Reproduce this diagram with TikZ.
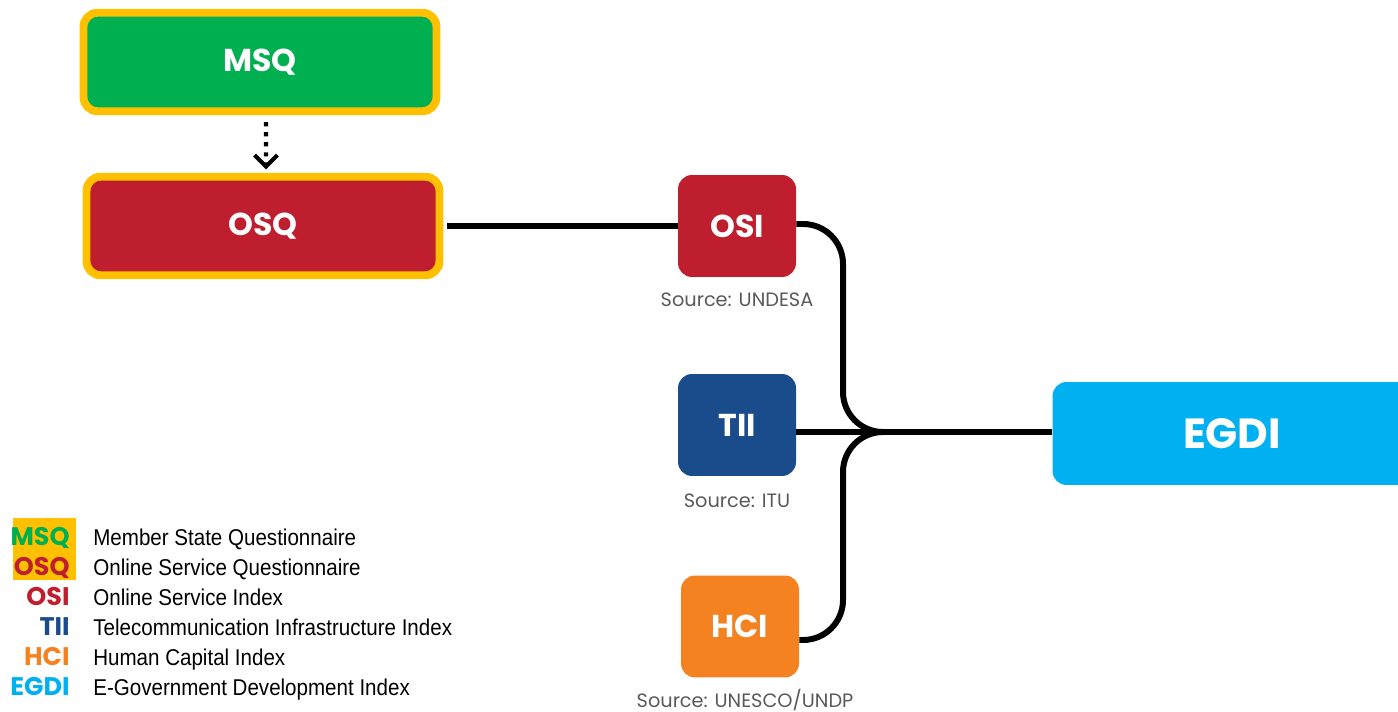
\documentclass[tikz,border=0pt]{standalone}
\usepackage{fontspec}
\setmainfont{Poppins}
\newfontfamily\legendfont[FakeStretch=0.9]{Liberation Sans}
\usetikzlibrary{arrows.meta}
\definecolor{verde}{HTML}{00B050}
\definecolor{oro}{HTML}{FFC000}
\definecolor{rojo}{HTML}{BE1E2D}
\definecolor{azul}{HTML}{1A4C8C}
\definecolor{naranja}{HTML}{F58220}
\definecolor{celeste}{HTML}{00B0F0}
\definecolor{gris}{HTML}{595959}

\begin{document}
\begin{tikzpicture}[x=0.02cm, y=-0.02cm,
  caja/.style={rounded corners=0.28cm, text=white, inner sep=0pt,
    font=\bfseries\fontsize{18}{20}\selectfont},
  cuest/.style={caja, draw=oro, line width=4.5pt,
    minimum width=7.06cm, minimum height=1.97cm},
  indice/.style={caja, minimum width=2.36cm, minimum height=2.04cm},
  fuente/.style={anchor=base, text=gris, inner sep=0pt,
    font=\fontsize{11}{13}\selectfont},
  enlace/.style={line width=3.4pt, line join=round},
  abrev/.style={anchor=base east, inner sep=0pt,
    font=\bfseries\fontsize{14.5}{16}\selectfont},
  desc/.style={anchor=base west, inner sep=0pt,
    font=\legendfont\fontsize{13}{15}\selectfont}]
  \useasboundingbox (0,0) rectangle (1398,712);

  % Cuestionarios
  \node[cuest, fill=verde] (msq) at (260,62) {MSQ};
  \node[cuest, fill=rojo] (osq) at (263,226) {OSQ};
  \draw[line width=2.3pt, dash pattern=on 2.3pt off 3.4pt,
    -{Straight Barb[length=6.5pt,width=13pt]}]
    ([xshift=0.12cm,yshift=-4pt]msq.south) -- ([xshift=0.06cm,yshift=2pt]osq.north);

  % Indices
  \node[indice, fill=rojo] (osi) at (737,226) {OSI};
  \node[indice, fill=azul] (tii) at (737,425) {TII};
  \node[indice, fill=naranja] (hci) at (740,626.5) {HCI};
  \node[caja, fill=celeste, minimum width=7.18cm, minimum height=2.06cm,
    font=\bfseries\fontsize{24}{28}\selectfont] (egdi) at (1232,433.5) {EGDI};

  % Fuentes
  \node[fuente] (src-osi) at (737,307) {Source: UNDESA};
  \node[fuente] (src-tii) at (737,507) {Source: ITU};
  \node[fuente] (src-hci) at (745,707) {Source: UNESCO/UNDP};

  % Conexiones
  \coordinate (union) at (885,432);
  \coordinate (codoA) at (843,224);
  \coordinate (codoB) at (843,640);
  \draw[enlace] ([xshift=2.25pt]osq.east) -- (osi.west);
  \draw[enlace] (tii.east |- union) -- (egdi.west |- union);
  \draw[enlace, rounded corners=0.8cm]
    (osi.east |- codoA) -- (codoA) -- (codoA |- union) -- (union);
  \draw[enlace, rounded corners=0.8cm]
    (hci.east |- codoB) -- (codoB) -- (codoB |- union) -- (union);

  % Leyenda
  \fill[oro] (13,518) rectangle (76,580);
  \foreach \abr/\col/\txt [count=\i] in {
      MSQ/verde/Member State Questionnaire,
      OSQ/rojo/Online Service Questionnaire,
      OSI/rojo/Online Service Index,
      TII/azul/Telecommunication Infrastructure Index,
      HCI/naranja/Human Capital Index,
      EGDI/celeste/E-Government Development Index} {
    \node[abrev, text=\col] (abr-\i) at (70,{515+30*\i}) {\abr};
    \node[desc] (des-\i) at (93,{515+30*\i}) {\txt};
  }
\end{tikzpicture}
\end{document}
